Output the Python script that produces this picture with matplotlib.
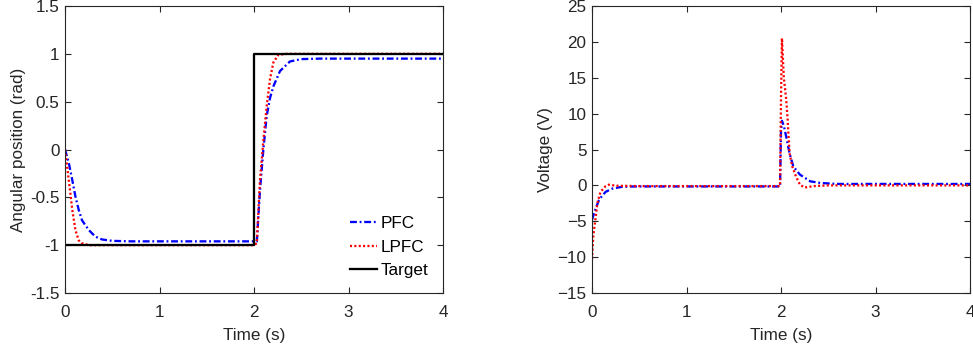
import matplotlib
matplotlib.use("Agg")
import matplotlib.pyplot as plt

# --- Data ---
# Angular position (rad)
PFC_POS_T = [0, 0.04, 0.077, 0.11, 0.145, 0.18, 0.25, 0.32, 0.39, 0.5, 0.7, 1.0, 1.5,
             2.0, 2.03, 2.063, 2.099, 2.134, 2.17, 2.205, 2.275, 2.38, 2.5, 2.7, 3.0, 3.5, 4.0]
PFC_POS = [0, -0.14, -0.32, -0.49, -0.63, -0.74, -0.84, -0.91, -0.94, -0.955, -0.96, -0.96, -0.96,
           -0.96, -0.96, -0.43, 0.0, 0.35, 0.54, 0.66, 0.82, 0.92, 0.945, 0.95, 0.95, 0.95, 0.95]

LPFC_POS_T = [0, 0.04, 0.077, 0.11, 0.145, 0.18, 0.25, 2.0, 2.03, 2.063, 2.1, 2.134, 2.17,
              2.205, 2.258, 2.35, 4.0]
LPFC_POS = [0, -0.32, -0.63, -0.84, -0.95, -0.98, -1.0, -1.0, -0.98, -0.32, 0.1, 0.45, 0.74,
            0.91, 0.99, 1.0, 1.0]

TARGET_T = [0, 2, 2, 4]
TARGET = [-1, -1, 1, 1]

# Voltage (V)
PFC_V_T = [0, 0.014, 0.04, 0.074, 0.11, 0.145, 0.215, 0.32, 0.45, 0.7, 1.0, 1.5, 1.99,
           2.0, 2.01, 2.03, 2.055, 2.09, 2.13, 2.2, 2.31, 2.42, 2.6, 3.0, 3.5, 4.0]
PFC_V = [-4.8, -4.2, -3.2, -2.05, -1.4, -0.9, -0.45, -0.2, -0.15, -0.15, -0.15, -0.15, -0.15,
         7.5, 9.0, 8.3, 6.8, 4.5, 2.65, 1.5, 0.56, 0.33, 0.2, 0.2, 0.2, 0.2]

LPFC_V_T = [0, 0.014, 0.04, 0.056, 0.09, 0.145, 0.18, 0.25, 0.5, 1.0, 1.5, 1.99,
            2.0, 2.01, 2.03, 2.055, 2.07, 2.09, 2.12, 2.16, 2.2, 2.25, 2.35, 2.5, 3.0, 4.0]
LPFC_V = [-10.3, -7.0, -4.3, -2.5, -0.9, -0.1, 0.1, -0.05, -0.1, -0.1, -0.1, -0.1,
          12.0, 20.5, 15.0, 12.0, 9.2, 4.5, 2.6, 1.2, 0.1, -0.3, -0.1, 0.0, 0.0, 0.0]

POS_YTICKS = [-1.5, -1, -0.5, 0, 0.5, 1, 1.5]
POS_YLABELS = ["-1.5", "-1", "-0.5", "0", "0.5", "1", "1.5"]
V_YTICKS = [-15, -10, -5, 0, 5, 10, 15, 20, 25]
X_TICKS = [0, 1, 2, 3, 4]

TXT = "#262626"
FS = 12.3

plt.rcParams.update({
    "font.family": ["Liberation Sans", "DejaVu Sans"],
    "font.size": FS,
    "xtick.direction": "in",
    "ytick.direction": "in",
    "xtick.top": True,
    "ytick.right": True,
    "xtick.major.size": 4,
    "ytick.major.size": 4,
    "xtick.color": TXT,
    "ytick.color": TXT,
    "axes.edgecolor": TXT,
    "axes.labelcolor": TXT,
    "axes.linewidth": 0.8,
})

DASHDOT = (0, (3, 1.2, 0.8, 1.2))
DOTTED = (0, (0.9, 1.0))

fig = plt.figure(figsize=(9.73, 3.54), dpi=100)
ax1 = fig.add_axes([65 / 973, 61 / 354, 378 / 973, 287 / 354])
ax2 = fig.add_axes([592 / 973, 61 / 354, 378 / 973, 287 / 354])

lw = 1.65
ax1.plot(PFC_POS_T, PFC_POS, linestyle=DASHDOT, color="#0000FF", lw=lw, label="PFC")
ax1.plot(LPFC_POS_T, LPFC_POS, linestyle=DOTTED, color="#FF0000", lw=lw, label="LPFC")
ax1.plot(TARGET_T, TARGET, "-", color="black", lw=lw, label="Target")
ax1.set_xlim(0, 4)
ax1.set_ylim(-1.5, 1.5)
ax1.set_xticks(X_TICKS)
ax1.set_yticks(POS_YTICKS)
ax1.set_yticklabels(POS_YLABELS)
ax1.set_xlabel("Time (s)")
ax1.set_ylabel("Angular position (rad)")
ax1.legend(loc="lower right", frameon=False, handlelength=1.6, handletextpad=0.2,
           labelspacing=0.5, borderaxespad=0.45, fontsize=FS)

ax2.plot(PFC_V_T, PFC_V, linestyle=DASHDOT, color="#0000FF", lw=lw)
ax2.plot(LPFC_V_T, LPFC_V, linestyle=DOTTED, color="#FF0000", lw=lw)
ax2.set_xlim(0, 4)
ax2.set_ylim(-15, 25)
ax2.set_xticks(X_TICKS)
ax2.set_yticks(V_YTICKS)
ax2.set_xlabel("Time (s)")
ax2.set_ylabel("Voltage (V)")

for ax in (ax1, ax2):
    ax.tick_params(axis="y", labelsize=FS, pad=4)
    ax.tick_params(axis="x", labelsize=FS, pad=8.5)
    ax.xaxis.labelpad = 6
    ax.yaxis.labelpad = 3

fig.savefig("out.png", dpi=100)
